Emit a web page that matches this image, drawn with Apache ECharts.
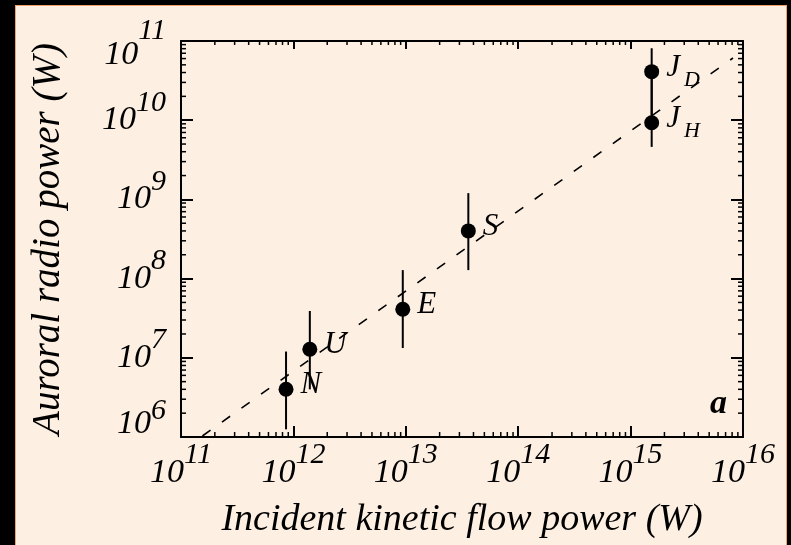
<!DOCTYPE html>
<html>
<head>
<meta charset="utf-8">
<script src="https://cdn.jsdelivr.net/npm/echarts@6/dist/echarts.min.js"></script>
<style>
html,body{margin:0;padding:0;background:#000;}
#panel{position:absolute;left:15px;top:5px;width:770px;height:545px;background:#fdf0e2;border:1px solid #f2a06a;border-bottom:none;}
#chart{position:absolute;left:0;top:0;width:791px;height:545px;}
</style>
</head>
<body>
<div id="panel"></div>
<div id="chart"></div>
<script>
// planets: incident kinetic flow power vs auroral radio power (W)
var names = ['N', 'U', 'E', 'S', 'J_D', 'J_H'];
var kineticPower = [8.6e11, 1.4e12, 9.4e12, 3.6e13, 1.54e15, 1.54e15];
var radioPower = [4.0e6, 1.28e7, 4.1e7, 4.0e8, 4.1e10, 9.3e9];
var radioLow = [1.25e6, 4.0e6, 1.33e7, 1.28e8, 9.3e9, 4.6e9];
var radioHigh = [1.2e7, 3.9e7, 1.28e8, 1.2e9, 8.1e10, 4.1e10];
// dashed fit line
var fitKinetic = [1.55e11, 8.15e15];
var fitRadio = [1.03e6, 6.1e10];
// axis decades (exponents)
var xExponents = [11, 12, 13, 14, 15, 16];
var yExponents = [6, 7, 8, 9, 10, 11];
var minorMultipliers = [2, 3, 4, 5, 6, 7, 8, 9];

var lg = Math.log10;
var FONT = 'Liberation Serif';
var xMin = xExponents[0], xMax = xExponents[xExponents.length - 1];
var yMin = yExponents[0], yMax = yExponents[yExponents.length - 1];

function minorTicks(exps) {
	var out = [];
	for (var i = 0; i < exps.length - 1; i++) {
		for (var j = 0; j < minorMultipliers.length; j++) {
			out.push(exps[i] + lg(minorMultipliers[j]));
		}
	}
	return out;
}
var xMinor = minorTicks(xExponents).map(function (v) { return [v, yMin]; });
var yMinor = minorTicks(yExponents).map(function (v) { return [xMin, v]; });

var points = names.map(function (n, i) {
	return { name: n, value: [lg(kineticPower[i]), lg(radioPower[i])] };
});
var bars = names.map(function (n, i) {
	return [lg(kineticPower[i]), lg(radioLow[i]), lg(radioHigh[i])];
});
var fitLine = fitKinetic.map(function (v, i) { return [lg(v), lg(fitRadio[i])]; });

function tok(size, pad) {
	return { fontFamily: FONT, fontStyle: 'italic', fontSize: size, lineHeight: size, color: '#000', padding: pad };
}
var labelRich = {
	b: tok(34, [0, 0, 0, 0]),
	s: tok(30, [0, 0, 35, 0]),
	b6: tok(34, [0, 0, 26, 0]),
	s6: tok(30, [0, 0, 51, 0]),
	b11: tok(34, [28, 0, 0, 0]),
	s11: tok(30, [0, 0, 19, 0])
};

var axisLine = { show: true, lineStyle: { color: '#000', width: 2 } };
var nameStyle = { fontFamily: FONT, fontStyle: 'italic', fontSize: 38, color: '#000' };

var chart = echarts.init(document.getElementById('chart'));
chart.setOption({
	backgroundColor: 'transparent',
	animation: false,
	title: {
		text: 'a', left: 705, top: 382,
		textStyle: { fontFamily: FONT, fontStyle: 'italic', fontWeight: 'bold', fontSize: 34, color: '#000' }
	},
	grid: { left: 181, top: 41, right: 48, bottom: 108, outerBoundsMode: 'none', containLabel: false },
	xAxis: [{
		type: 'value', min: xMin, max: xMax, interval: 1, position: 'bottom',
		axisLine: axisLine,
		axisTick: { show: true, inside: true, length: 11, lineStyle: { color: '#000', width: 2 } },
		splitLine: { show: false },
		axisLabel: {
			margin: 19,
			formatter: function (v) { return '{b|10}{s|' + v + '}'; },
			rich: labelRich
		},
		name: 'Incident kinetic flow power (W)', nameLocation: 'middle', nameGap: 64,
		nameMoveOverlap: false,
		nameTextStyle: nameStyle
	}, {
		type: 'value', min: xMin, max: xMax, interval: 1, position: 'top',
		axisLine: axisLine,
		axisTick: { show: true, inside: true, length: 8, lineStyle: { color: '#000', width: 2 } },
		splitLine: { show: false }, axisLabel: { show: false }
	}],
	yAxis: [{
		type: 'value', min: yMin, max: yMax, interval: 1, position: 'left',
		axisLine: axisLine,
		axisTick: { show: true, inside: true, length: 12, lineStyle: { color: '#000', width: 2 } },
		splitLine: { show: false },
		axisLabel: {
			margin: 15,
			formatter: function (v) {
				if (v === yMin) return '{b6|10}{s6|' + v + '}';
				if (v === yMax) return '{b11|10}{s11|' + v + '}';
				return '{b|10}{s|' + v + '}';
			},
			rich: labelRich
		},
		name: 'Auroral radio power (W)', nameLocation: 'middle', nameGap: 113,
		nameMoveOverlap: false,
		nameTextStyle: { fontFamily: FONT, fontStyle: 'italic', fontSize: 39, color: '#000' }
	}, {
		type: 'value', min: yMin, max: yMax, interval: 1, position: 'right',
		axisLine: axisLine,
		axisTick: { show: true, inside: true, length: 12, lineStyle: { color: '#000', width: 2 } },
		splitLine: { show: false }, axisLabel: { show: false }
	}],
	series: [{
		// minor ticks on bottom and top
		type: 'custom', silent: true, data: xMinor,
		renderItem: function (params, api) {
			var b = api.coord([api.value(0), yMin]);
			var t = api.coord([api.value(0), yMax]);
			var st = { stroke: '#000', lineWidth: 1.5 };
			return { type: 'group', children: [
				{ type: 'line', shape: { x1: b[0], y1: b[1], x2: b[0], y2: b[1] - 5 }, style: st },
				{ type: 'line', shape: { x1: t[0], y1: t[1], x2: t[0], y2: t[1] + 4 }, style: st }
			] };
		}
	}, {
		// minor ticks on left and right
		type: 'custom', silent: true, data: yMinor,
		renderItem: function (params, api) {
			var l = api.coord([xMin, api.value(1)]);
			var r = api.coord([xMax, api.value(1)]);
			var st = { stroke: '#000', lineWidth: 1.5 };
			return { type: 'group', children: [
				{ type: 'line', shape: { x1: l[0], y1: l[1], x2: l[0] + 5, y2: l[1] }, style: st },
				{ type: 'line', shape: { x1: r[0], y1: r[1], x2: r[0] - 5, y2: r[1] }, style: st }
			] };
		}
	}, {
		type: 'line', data: fitLine, symbol: 'none', silent: true,
		lineStyle: { color: '#000', width: 1.6, type: [10, 14] }
	}, {
		// error bars
		type: 'custom', silent: true, data: bars,
		renderItem: function (params, api) {
			var lo = api.coord([api.value(0), api.value(1)]);
			var hi = api.coord([api.value(0), api.value(2)]);
			return { type: 'line', shape: { x1: lo[0], y1: lo[1], x2: hi[0], y2: hi[1] },
				style: { stroke: '#000', lineWidth: 2 } };
		},
		z: 3
	}, {
		type: 'scatter', data: points, symbol: 'circle', symbolSize: 15,
		itemStyle: { color: '#000', opacity: 1 }, z: 4,
		label: {
			show: true, position: 'right', distance: 7, offset: [0, -4], opacity: 1,
			formatter: function (p) {
				var parts = p.name.split('_');
				return parts.length > 1 ? '{m|' + parts[0] + '}{sub|' + parts[1] + '}' : '{m|' + parts[0] + '}';
			},
			rich: {
				m: { fontFamily: FONT, fontStyle: 'italic', fontSize: 31, lineHeight: 31, color: '#000' },
				sub: { fontFamily: FONT, fontStyle: 'italic', fontSize: 22, lineHeight: 22, color: '#000', padding: [26, 0, 0, 4] }
			}
		}
	}]
});
</script>
</body>
</html>
